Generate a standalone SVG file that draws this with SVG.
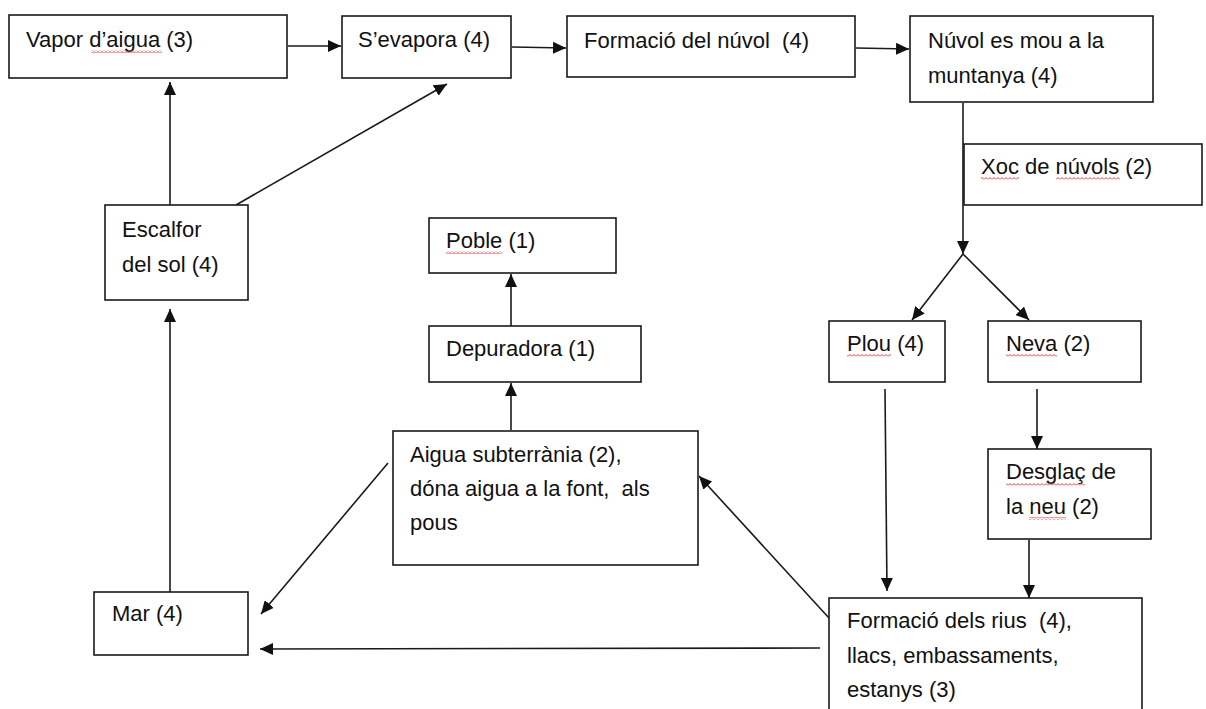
<svg xmlns="http://www.w3.org/2000/svg" width="1206" height="709" viewBox="0 0 1206 709">
<style>
  .box { fill: #ffffff; stroke: #1a1a1a; stroke-width: 1.6; }
  .lbl { font-family: "Liberation Sans", Arial, sans-serif; font-size: 22px; fill: #111111; white-space: pre; }
  .sq { fill: url(#squig); }
  .wire { fill: none; stroke: #1a1a1a; stroke-width: 1.6; }
  .arr { marker-end: url(#head); }
</style>
<defs>
  <marker id="head" markerUnits="userSpaceOnUse" markerWidth="14" markerHeight="12" refX="13" refY="6" orient="auto">
    <path d="M0,0 L13,6 L0,12 Z" fill="#111111"/>
  </marker>
  <!-- red wavy spell-check underline -->
  <pattern id="squig" patternUnits="userSpaceOnUse" width="4" height="3">
    <path d="M0,2.5 L2,0.5 L4,2.5" fill="none" stroke="#e8202a" stroke-width="0.9"/>
  </pattern>
</defs>
<rect width="1206" height="709" fill="#ffffff"/>

<!-- connectors -->
<g id="connectors">
  <path class="wire arr" d="M288,46 L341,46"/>
  <path class="wire arr" d="M512,47 L566,48"/>
  <path class="wire arr" d="M856,48 L909,49"/>
  <path class="wire arr" d="M963,103 L963,254"/>
  <path class="wire arr" d="M963,254 L912,320"/>
  <path class="wire arr" d="M963,254 L1029,320"/>
  <path class="wire arr" d="M1037,389 L1037,449"/>
  <path class="wire arr" d="M885,389 L887,591"/>
  <path class="wire arr" d="M1029,540 L1029,598"/>
  <path class="wire arr" d="M829,618 L699,476"/>
  <path class="wire arr" d="M820,648 L260,649"/>
  <path class="wire arr" d="M388,463 L261,614"/>
  <path class="wire arr" d="M511,430 L511,383"/>
  <path class="wire arr" d="M511,326 L511,274"/>
  <path class="wire arr" d="M170,592 L170,309"/>
  <path class="wire arr" d="M170,205 L170,82"/>
  <path class="wire arr" d="M236,205 L447,84"/>
</g>

<!-- nodes -->
<g id="vapor">
  <rect class="box" x="9" y="15" width="278" height="63"/>
  <text class="lbl" x="26" y="47">Vapor d’aigua (3)</text>
  <rect class="sq" x="91" y="50" width="71" height="3"/>
</g>
<g id="sevapora">
  <rect class="box" x="342" y="16" width="169" height="62"/>
  <text class="lbl" x="358" y="47">S’evapora (4)</text>
</g>
<g id="formacio-nuvol">
  <rect class="box" x="567" y="16" width="288" height="61"/>
  <text class="lbl" x="584" y="48">Formació del núvol  (4)</text>
</g>
<g id="nuvol-muntanya">
  <rect class="box" x="910" y="16" width="243" height="86"/>
  <text class="lbl" x="928" y="48">Núvol es mou a la</text>
  <text class="lbl" x="928" y="83">muntanya (4)</text>
</g>
<g id="xoc-nuvols">
  <rect class="box" x="964" y="144" width="238" height="61"/>
  <text class="lbl" x="981" y="174">Xoc de núvols (2)</text>
  <rect class="sq" x="981" y="177" width="38" height="3"/>
  <rect class="sq" x="1056" y="177" width="64" height="3"/>
</g>
<g id="plou">
  <rect class="box" x="829" y="321" width="116" height="61"/>
  <text class="lbl" x="847" y="351">Plou (4)</text>
  <rect class="sq" x="847" y="354" width="44" height="3"/>
</g>
<g id="neva">
  <rect class="box" x="988" y="321" width="153" height="61"/>
  <text class="lbl" x="1006" y="351">Neva (2)</text>
  <rect class="sq" x="1006" y="354" width="51" height="3"/>
</g>
<g id="desglac">
  <rect class="box" x="988" y="449" width="163" height="90"/>
  <text class="lbl" x="1006" y="479">Desglaç de</text>
  <text class="lbl" x="1006" y="514">la neu (2)</text>
  <rect class="sq" x="1006" y="483" width="79" height="3"/>
  <rect class="sq" x="1029" y="517" width="37" height="3"/>
</g>
<g id="formacio-rius">
  <rect class="box" x="829" y="598" width="313" height="130"/>
  <text class="lbl" x="847" y="628">Formació dels rius  (4),</text>
  <text class="lbl" x="847" y="663">llacs, embassaments,</text>
  <text class="lbl" x="847" y="697">estanys (3)</text>
</g>
<g id="aigua-subterrania">
  <rect class="box" x="393" y="431" width="305" height="134"/>
  <text class="lbl" x="410" y="462">Aigua subterrània (2),</text>
  <text class="lbl" x="410" y="496">dóna aigua a la font,  als</text>
  <text class="lbl" x="410" y="530">pous</text>
</g>
<g id="depuradora">
  <rect class="box" x="429" y="326" width="212" height="56"/>
  <text class="lbl" x="446" y="356">Depuradora (1)</text>
</g>
<g id="poble">
  <rect class="box" x="429" y="218" width="187" height="55"/>
  <text class="lbl" x="446" y="248">Poble (1)</text>
  <rect class="sq" x="446" y="251" width="56" height="3"/>
</g>
<g id="mar">
  <rect class="box" x="94" y="592" width="154" height="63"/>
  <text class="lbl" x="112" y="621">Mar (4)</text>
</g>
<g id="escalfor">
  <rect class="box" x="105" y="205" width="143" height="95"/>
  <text class="lbl" x="122" y="237">Escalfor</text>
  <text class="lbl" x="122" y="272">del sol (4)</text>
</g>
</svg>
